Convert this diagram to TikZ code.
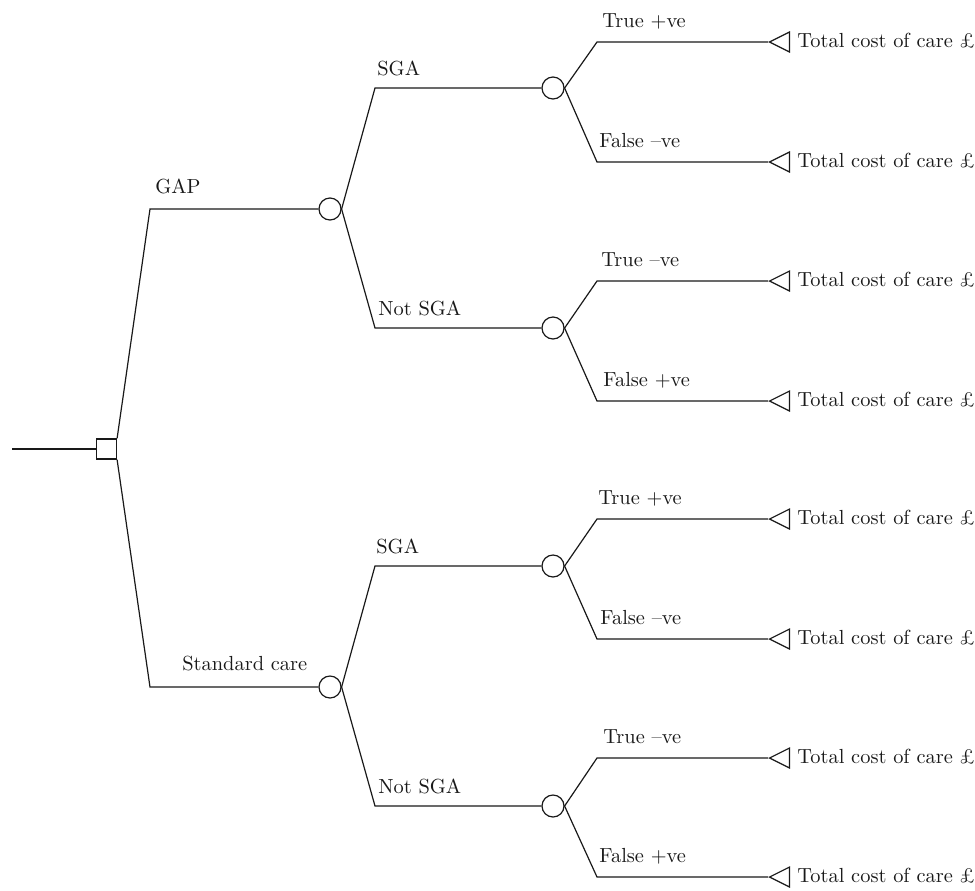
\documentclass[tikz,border=0pt]{standalone}
\usepackage{fontspec}
\usepackage{tikz}
\usetikzlibrary{shapes.geometric}
\tikzset{
    branch/.style={line width=0.6pt, black!90},
    chance/.style={circle, draw=black!90, line width=0.6pt, minimum size=11pt, inner sep=0pt},
    decision/.style={rectangle, draw=black!90, line width=0.6pt, minimum size=10pt, inner sep=0pt},
    payoff/.style={isosceles triangle, isosceles triangle stretches, shape border rotate=180,
        draw=black!90, line width=0.6pt, minimum width=10pt, minimum height=10pt, inner sep=0pt, anchor=apex},
    lbl/.style={anchor=base west, inner sep=0pt, text=black!90, font=\fontsize{10.2}{12}\selectfont}
}

\begin{document}
\begin{tikzpicture}[x=0.5pt,y=-0.5pt]
  \useasboundingbox (0,0) rectangle (975,890);

  % Decision node and its incoming line
  \coordinate (start) at (12,449);
  \node[decision] (dec) at (106.5,449) {};
  \draw[branch] (start) -- (dec);

  % First level: GAP / Standard care
  \coordinate (kgap) at (150,209);
  \coordinate (kstd) at (150,687);
  \node[chance] (gap) at (330,209) {};
  \node[chance] (std) at (330,687) {};
  \draw[branch] (dec.north east) -- (kgap) -- (gap);
  \draw[branch] (dec.south east) -- (kstd) -- (std);
  \node[lbl] (lgap) at (155,193) {GAP};
  \node[lbl] (lstd) at (182,670) {Standard care};

  % Second level: SGA / Not SGA
  \coordinate (ksga1) at (375,88);
  \coordinate (knot1) at (375,328);
  \coordinate (ksga2) at (375,566);
  \coordinate (knot2) at (375,806);
  \node[chance] (sga1) at (553,88) {};
  \node[chance] (not1) at (553,328) {};
  \node[chance] (sga2) at (553,566) {};
  \node[chance] (not2) at (553,806) {};
  \draw[branch] (gap.east) -- (ksga1) -- (sga1);
  \draw[branch] (gap.east) -- (knot1) -- (not1);
  \draw[branch] (std.east) -- (ksga2) -- (sga2);
  \draw[branch] (std.east) -- (knot2) -- (not2);
  \node[lbl] (lsga1) at (377,75) {SGA};
  \node[lbl] (lnot1) at (378,315) {Not SGA};
  \node[lbl] (lsga2) at (376,553) {SGA};
  \node[lbl] (lnot2) at (378,793) {Not SGA};

  % Third level: test outcomes
  \coordinate (kt1) at (597,42);
  \coordinate (kt2) at (597,162);
  \coordinate (kt3) at (597,281);
  \coordinate (kt4) at (597,401);
  \coordinate (kt5) at (597,519);
  \coordinate (kt6) at (597,639);
  \coordinate (kt7) at (597,758);
  \coordinate (kt8) at (597,877);

  % Terminal nodes
  \node[payoff] (t1) at (768,42) {};
  \node[payoff] (t2) at (768,162) {};
  \node[payoff] (t3) at (768,281) {};
  \node[payoff] (t4) at (768,401) {};
  \node[payoff] (t5) at (768,519) {};
  \node[payoff] (t6) at (768,639) {};
  \node[payoff] (t7) at (768,758) {};
  \node[payoff] (t8) at (768,877) {};

  \draw[branch] (sga1.east) -- (kt1) -- (t1.apex);
  \draw[branch] (sga1.east) -- (kt2) -- (t2.apex);
  \draw[branch] (not1.east) -- (kt3) -- (t3.apex);
  \draw[branch] (not1.east) -- (kt4) -- (t4.apex);
  \draw[branch] (sga2.east) -- (kt5) -- (t5.apex);
  \draw[branch] (sga2.east) -- (kt6) -- (t6.apex);
  \draw[branch] (not2.east) -- (kt7) -- (t7.apex);
  \draw[branch] (not2.east) -- (kt8) -- (t8.apex);

  \node[lbl] (lo1) at (602,27)  {True +ve};
  \node[lbl] (lo2) at (599,147) {False –ve};
  \node[lbl] (lo3) at (601,266) {True –ve};
  \node[lbl] (lo4) at (603,386) {False +ve};
  \node[lbl] (lo5) at (598,504) {True +ve};
  \node[lbl] (lo6) at (600,624) {False –ve};
  \node[lbl] (lo7) at (603,743) {True –ve};
  \node[lbl] (lo8) at (599,862) {False +ve};

  % Payoff labels
  \node[lbl] (c1) at (797,47)  {Total cost of care £};
  \node[lbl] (c2) at (797,167) {Total cost of care £};
  \node[lbl] (c3) at (797,286) {Total cost of care £};
  \node[lbl] (c4) at (797,406) {Total cost of care £};
  \node[lbl] (c5) at (797,524) {Total cost of care £};
  \node[lbl] (c6) at (797,644) {Total cost of care £};
  \node[lbl] (c7) at (797,763) {Total cost of care £};
  \node[lbl] (c8) at (797,882) {Total cost of care £};

\end{tikzpicture}
\end{document}
